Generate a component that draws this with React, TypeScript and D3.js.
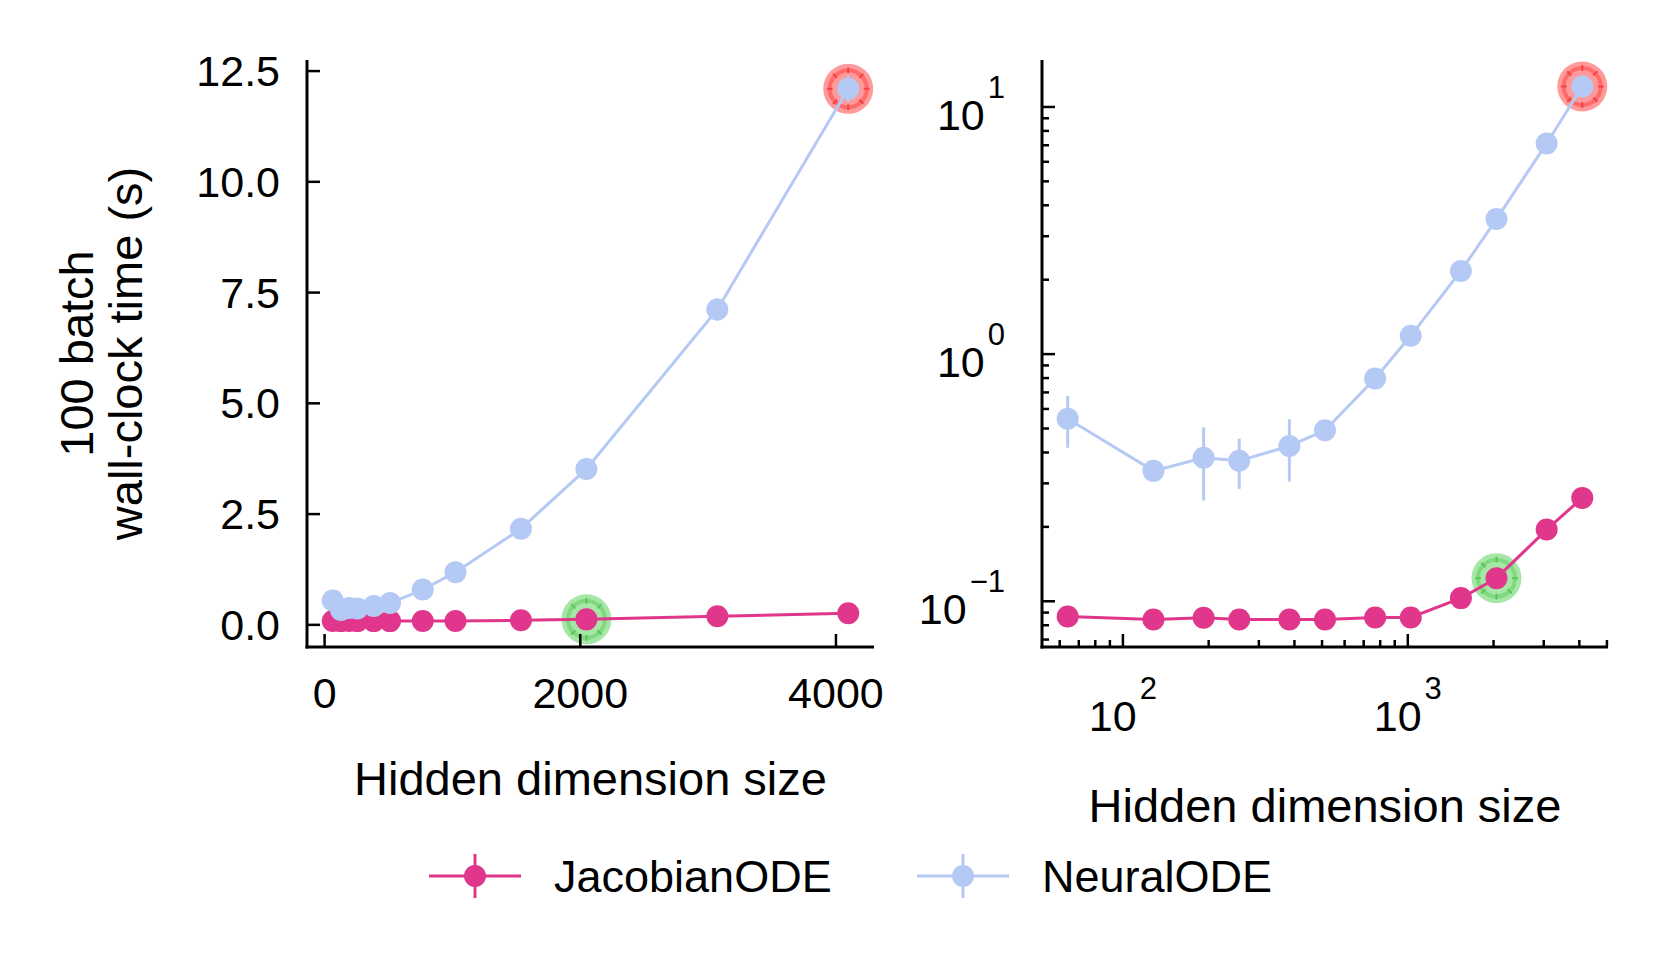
import * as d3 from 'd3'

// hidden dimension sizes (same for both series)
const dims = [64, 128, 192, 256, 384, 512, 768, 1024, 1536, 2048, 3072, 4096]

// 100-batch wall-clock time (s)
const jacobianTime = [0.0868, 0.0844, 0.0857, 0.0844, 0.0844, 0.0844, 0.086, 0.086, 0.103, 0.124, 0.195, 0.262]
const jacobianStd = [0.002, 0.002, 0.002, 0.002, 0.002, 0.002, 0.002, 0.002, 0.003, 0.003, 0.004, 0.005]
const neuralTime = [0.548, 0.337, 0.381, 0.37, 0.425, 0.492, 0.797, 1.186, 2.17, 3.52, 7.12, 12.1]
const neuralStd = [0.13, 0.01, 0.125, 0.085, 0.12, 0.02, 0.03, 0.05, 0.08, 0.12, 0.25, 0.3]

const linXTicks = [0, 2000, 4000]
const linYTicks = [0, 2.5, 5, 7.5, 10, 12.5]
const logXTicks = [2, 3]
const logYTicks = [-1, 0, 1]

const PINK = '#e0368b'
const BLUE = '#b5c9f5'
const FONT = '"Liberation Sans", Arial, Helvetica, sans-serif'

const series = [
    { name: 'JacobianODE', values: jacobianTime, std: jacobianStd, color: PINK },
    { name: 'NeuralODE', values: neuralTime, std: neuralStd, color: BLUE },
]

// which points get highlighted
const highlights = [
    { series: 1, index: 11, fill: '#ff9a9a', ring: '#ff6a6a', mark: '#f03030' },
    { series: 0, index: 9, fill: '#a6e6a6', ring: '#80d880', mark: '#48c048' },
]

const Highlight = ({ cx, cy, h }) => (
    <g>
        <circle cx={cx} cy={cy} r={25} fill={h.fill} />
        <circle cx={cx} cy={cy} r={18.5} fill="none" stroke={h.ring} strokeWidth={4} />
        {d3.range(8).map((k) => {
            const a = (k * Math.PI) / 4
            return (
                <line
                    key={k}
                    x1={cx + 15.5 * Math.cos(a)}
                    y1={cy + 15.5 * Math.sin(a)}
                    x2={cx + 21.5 * Math.cos(a)}
                    y2={cy + 21.5 * Math.sin(a)}
                    stroke={h.mark}
                    strokeWidth={2}
                    opacity={0.7}
                />
            )
        })}
    </g>
)

const Series = ({ xScale, yScale }) => (
    <g>
        {highlights.map((h, i) => (
            <Highlight
                key={i}
                cx={xScale(dims[h.index])}
                cy={yScale(series[h.series].values[h.index])}
                h={h}
            />
        ))}
        {series.map((s) => {
            const line = d3
                .line<number>()
                .x((_, i) => xScale(dims[i]))
                .y((d) => yScale(d))
            return (
                <g key={s.name}>
                    <path d={line(s.values) || ''} fill="none" stroke={s.color} strokeWidth={3} />
                    {s.values.map((v, i) => (
                        <line
                            key={'e' + i}
                            x1={xScale(dims[i])}
                            x2={xScale(dims[i])}
                            y1={yScale(v - s.std[i])}
                            y2={yScale(v + s.std[i])}
                            stroke={s.color}
                            strokeWidth={3}
                        />
                    ))}
                    {s.values.map((v, i) => (
                        <circle key={'c' + i} cx={xScale(dims[i])} cy={yScale(v)} r={11} fill={s.color} />
                    ))}
                </g>
            )
        })}
    </g>
)

const Pow = ({ x, y, exp, anchor }) => (
    <text x={x} y={y} textAnchor={anchor} fontSize={43} fontFamily={FONT}>
        10
        <tspan dx={3} dy={-32} fontSize={31}>
            {exp < 0 ? '\u2212' + Math.abs(exp) : exp}
        </tspan>
    </text>
)

export default function App() {
    const left = 307
    const right = 874
    const top = 60
    const bottom = 647
    const rLeft = 1042
    const rRight = 1608

    const xLin = d3.scaleLinear().domain([-137.6, 4297.6]).range([left, right])
    const yLin = d3.scaleLinear().domain([-0.5, 12.75]).range([bottom, top])
    const xLog = d3.scaleLog().domain([10 ** 1.716, 10 ** 3.7027]).range([rLeft, rRight])
    const yLog = d3.scaleLog().domain([10 ** -1.185, 10 ** 1.19]).range([bottom, top])

    // minor ticks for log axes
    const minor = (domain) => {
        const out = []
        for (let e = -3; e <= 5; e++)
            for (let m = 2; m <= 9; m++) {
                const v = m * 10 ** e
                if (v >= domain[0] && v <= domain[1]) out.push(v)
            }
        return out
    }
    const xMinor = minor(xLog.domain())
    const yMinor = minor(yLog.domain())

    const axisStroke = { stroke: '#000', strokeWidth: 3 }
    const tickStroke = { stroke: '#000', strokeWidth: 2.5 }

    return (
        <svg
            width={1661}
            height={971}
            style={{ position: 'absolute', left: 0, top: 0, background: '#fff' }}
        >
            <rect width={1661} height={971} fill="#fff" />

            {/* left panel, linear */}
            <g>
                <Series xScale={xLin} yScale={yLin} />
                <line x1={left} x2={left} y1={top} y2={bottom + 1.5} {...axisStroke} />
                <line x1={left - 1.5} x2={right} y1={bottom} y2={bottom} {...axisStroke} />
                {linYTicks.map((t) => (
                    <g key={t}>
                        <line x1={left} x2={left + 13} y1={yLin(t)} y2={yLin(t)} {...tickStroke} />
                        <text
                            x={left - 27}
                            y={yLin(t) + 15}
                            textAnchor="end"
                            fontSize={43}
                            fontFamily={FONT}
                        >
                            {t.toFixed(1)}
                        </text>
                    </g>
                ))}
                {linXTicks.map((t) => (
                    <g key={t}>
                        <line x1={xLin(t)} x2={xLin(t)} y1={bottom} y2={bottom - 13} {...tickStroke} />
                        <text x={xLin(t)} y={708} textAnchor="middle" fontSize={43} fontFamily={FONT}>
                            {t}
                        </text>
                    </g>
                ))}
                <text
                    x={(left + right) / 2}
                    y={795}
                    textAnchor="middle"
                    fontSize={47}
                    fontFamily={FONT}
                >
                    Hidden dimension size
                </text>
                <g transform={`translate(93, ${(top + bottom) / 2}) rotate(-90)`}>
                    <text textAnchor="middle" fontSize={47} fontFamily={FONT}>
                        100 batch
                    </text>
                    <text y={49} textAnchor="middle" fontSize={47} fontFamily={FONT}>
                        wall-clock time (s)
                    </text>
                </g>
            </g>

            {/* right panel, log-log */}
            <g>
                <Series xScale={xLog} yScale={yLog} />
                <line x1={rLeft} x2={rLeft} y1={top} y2={bottom + 1.5} {...axisStroke} />
                <line x1={rLeft - 1.5} x2={rRight} y1={bottom} y2={bottom} {...axisStroke} />
                {yMinor.map((t) => (
                    <line key={t} x1={rLeft} x2={rLeft + 7} y1={yLog(t)} y2={yLog(t)} {...tickStroke} />
                ))}
                {xMinor.map((t) => (
                    <line key={t} x1={xLog(t)} x2={xLog(t)} y1={bottom} y2={bottom - 7} {...tickStroke} />
                ))}
                {logYTicks.map((e) => (
                    <g key={e}>
                        <line
                            x1={rLeft}
                            x2={rLeft + 13}
                            y1={yLog(10 ** e)}
                            y2={yLog(10 ** e)}
                            {...tickStroke}
                        />
                        <Pow x={rLeft - 37} y={yLog(10 ** e) + 23} exp={e} anchor="end" />
                    </g>
                ))}
                {logXTicks.map((e) => (
                    <g key={e}>
                        <line
                            x1={xLog(10 ** e)}
                            x2={xLog(10 ** e)}
                            y1={bottom}
                            y2={bottom - 13}
                            {...tickStroke}
                        />
                        <Pow x={xLog(10 ** e)} y={731} exp={e} anchor="middle" />
                    </g>
                ))}
                <text
                    x={(rLeft + rRight) / 2}
                    y={822}
                    textAnchor="middle"
                    fontSize={47}
                    fontFamily={FONT}
                >
                    Hidden dimension size
                </text>
            </g>

            {/* legend */}
            {series.map((s, i) => {
                const x0 = [429, 917][i]
                const cy = 876
                return (
                    <g key={s.name}>
                        <line x1={x0} x2={x0 + 92} y1={cy} y2={cy} stroke={s.color} strokeWidth={3} />
                        <line
                            x1={x0 + 46}
                            x2={x0 + 46}
                            y1={cy - 22}
                            y2={cy + 22}
                            stroke={s.color}
                            strokeWidth={3}
                        />
                        <circle cx={x0 + 46} cy={cy} r={11} fill={s.color} />
                        <text x={x0 + 125} y={cy + 16} fontSize={45} fontFamily={FONT}>
                            {s.name}
                        </text>
                    </g>
                )
            })}
        </svg>
    )
}
